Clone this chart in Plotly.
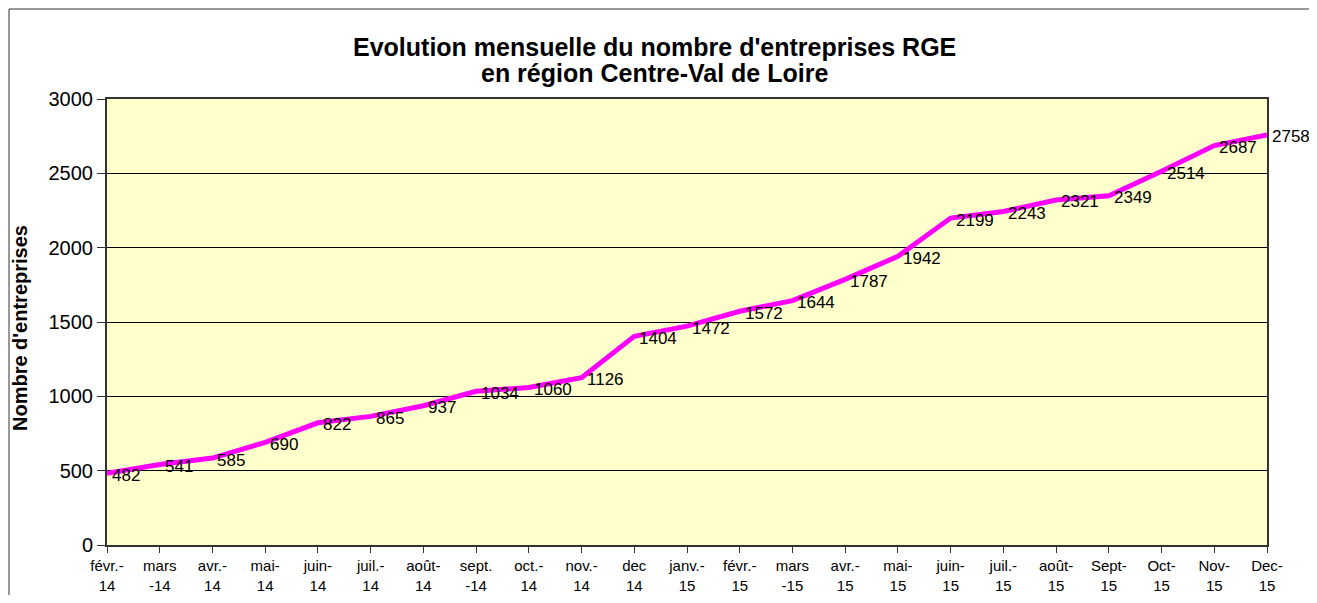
import plotly.graph_objects as go

months = ["févr.-<br>14", "mars<br>-14", "avr.-<br>14", "mai-<br>14", "juin-<br>14", "juil.-<br>14",
          "août-<br>14", "sept.<br>-14", "oct.-<br>14", "nov.-<br>14", "dec<br>14", "janv.-<br>15",
          "févr.-<br>15", "mars<br>-15", "avr.-<br>15", "mai-<br>15", "juin-<br>15", "juil.-<br>15",
          "août-<br>15", "Sept-<br>15", "Oct-<br>15", "Nov-<br>15", "Dec-<br>15"]
values = [482, 541, 585, 690, 822, 865, 937, 1034, 1060, 1126, 1404, 1472, 1572, 1644,
          1787, 1942, 2199, 2243, 2321, 2349, 2514, 2687, 2758]
title_lines = ["Evolution mensuelle du nombre d'entreprises RGE", "en région Centre-Val de Loire"]
y_title = "Nombre d'entreprises"

font = "Liberation Sans, Arial, sans-serif"
OFF = 8  # page body margin
FW, FH = 1317 - 2 * OFF, 603 - 2 * OFF
L, R, T, B = 107 - OFF, 1267 - OFF, 99 - OFF, 545 - OFF
W, H = R - L, B - T

def px(x):  # screen pixel -> paper
    return (x - OFF - L) / W

def py(y):
    return (B - (y - OFF)) / H

xs = list(range(len(values)))

fig = go.Figure()
fig.add_trace(go.Scatter(
    x=xs, y=values, mode="lines",
    line=dict(color="#FF00FF", width=5),
    cliponaxis=False, showlegend=False, hoverinfo="skip",
))

annotations = [
    dict(x=x, y=v, xref="x", yref="y", text=str(v), showarrow=False,
         xanchor="left", yanchor="middle", xshift=3, yshift=-2,
         font=dict(family=font, size=17, color="black"))
    for x, v in zip(xs, values)
]
annotations += [
    dict(text="<b>" + title_lines[0] + "</b>", xref="paper", yref="paper",
         x=px(654), y=py(47), xanchor="center", yanchor="middle", showarrow=False,
         font=dict(family=font, size=25, color="black")),
    dict(text="<b>" + title_lines[1] + "</b>", xref="paper", yref="paper",
         x=px(654), y=py(73), xanchor="center", yanchor="middle", showarrow=False,
         font=dict(family=font, size=25, color="black")),
    dict(text="<b>" + y_title + "</b>", xref="paper", yref="paper",
         x=px(20), y=py(328), xanchor="center", yanchor="middle", showarrow=False,
         textangle=-90, font=dict(family=font, size=20, color="black")),
]

fig.update_layout(
    width=FW, height=FH,
    margin=dict(l=L, r=FW - R, t=T, b=FH - B),
    paper_bgcolor="white", plot_bgcolor="#FFFFCC",
    font=dict(family=font, size=18, color="black"),
    xaxis=dict(range=[0, len(values) - 1], tickmode="array",
               tickvals=xs, ticktext=months,
               showgrid=False, ticks="outside", ticklen=6, tickcolor="#333",
               showline=True, linecolor="#333", linewidth=2, mirror=True,
               tickfont=dict(size=15), zeroline=False, automargin=False),
    yaxis=dict(range=[0, 3000], dtick=500, showgrid=True, gridcolor="black", gridwidth=1,
               ticks="outside", ticklen=8, tickcolor="#333",
               showline=True, linecolor="#333", linewidth=2, mirror=True,
               zeroline=False, tickfont=dict(size=20), automargin=False),
    annotations=annotations,
    shapes=[dict(type="rect", xref="paper", yref="paper",
                 x0=px(9), x1=px(1330), y0=py(620), y1=py(9),
                 line=dict(color="#333", width=1), layer="below")],
)

fig.write_html("out.html")
